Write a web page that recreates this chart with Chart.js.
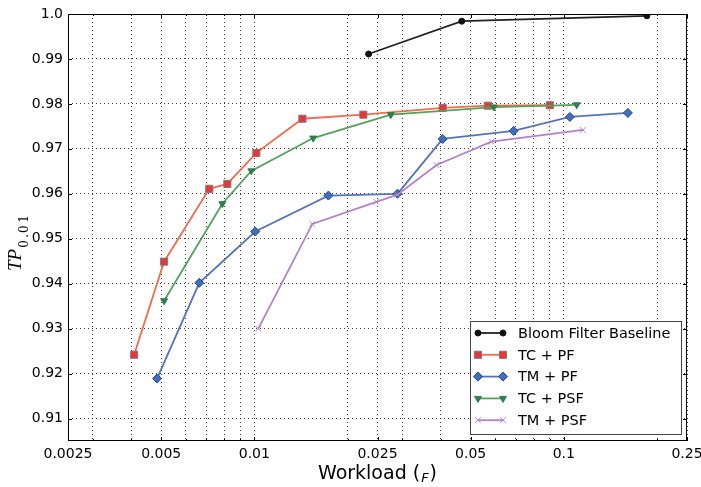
<!DOCTYPE html>
<html>
<head>
<meta charset="utf-8">
<script src="https://cdn.jsdelivr.net/npm/chart.js@4.4.1/dist/chart.umd.min.js"></script>
<style>
  html, body { margin: 0; padding: 0; background: #fff; }
  #wrap { width: 701px; height: 487px; }
</style>
</head>
<body>
<div id="wrap"><canvas id="chart" width="701" height="487"></canvas></div>
<script>
// values
const seriesLabels = ['Bloom Filter Baseline', 'TC + PF', 'TM + PF', 'TC + PSF', 'TM + PSF'];

const bloomX = [0.0234, 0.0468, 0.1855];
const bloomY = [0.9911, 0.9984, 0.9996];

const tcPfX = [0.00409, 0.00511, 0.00715, 0.00818, 0.01015, 0.0143, 0.0225, 0.0406, 0.0568, 0.0901];
const tcPfY = [0.9242, 0.9449, 0.9611, 0.9622, 0.9691, 0.9767, 0.9776, 0.9791, 0.9796, 0.9797];

const tmPfX = [0.00485, 0.00664, 0.01007, 0.01735, 0.0290, 0.0406, 0.0688, 0.1046, 0.161];
const tmPfY = [0.9189, 0.9402, 0.9516, 0.9596, 0.9600, 0.9722, 0.9740, 0.9771, 0.9780];

const tcPsfX = [0.00511, 0.00788, 0.00978, 0.0155, 0.0276, 0.0594, 0.1101];
const tcPsfY = [0.9362, 0.9578, 0.9651, 0.9724, 0.9776, 0.9793, 0.9798];

const tmPsfX = [0.0103, 0.0154, 0.0248, 0.0290, 0.0388, 0.0584, 0.1152];
const tmPsfY = [0.9300, 0.9533, 0.9582, 0.9598, 0.9664, 0.9716, 0.9742];

const xTickLabels = [0.0025, 0.005, 0.01, 0.025, 0.05, 0.1, 0.25];
const yTickValues = [0.91, 0.92, 0.93, 0.94, 0.95, 0.96, 0.97, 0.98, 0.99, 1.0];

// log grid: 2..9 in each decade plus the labelled ticks
function buildXGrid() {
    const out = xTickLabels.slice();
    [0.001, 0.01, 0.1].forEach(dec => {
        for (let m = 1; m <= 9; m++) {
            const v = +(dec * m).toPrecision(6);
            if (v > 0.0025 && v < 0.25 && !out.some(t => Math.abs(t - v) < 1e-9)) out.push(v);
        }
    });
    return out.sort((a, b) => a - b);
}
const xGrid = buildXGrid();

function zip(xs, ys) {
    return xs.map((x, i) => ({ x: x, y: ys[i] }));
}

const styles = [
    { line: '#222222', fill: '#111111', edge: '#111111', pointStyle: 'circle', radius: 3, rotation: 0 },
    { line: '#F26B50', fill: '#E8363A', edge: '#7a7a7a', pointStyle: 'rect', radius: 5, rotation: 0 },
    { line: '#5673B9', fill: '#3D6FC2', edge: '#26457c', pointStyle: 'rectRot', radius: 4.5, rotation: 0 },
    { line: '#55A05A', fill: '#2F7E4E', edge: '#2F7E4E', pointStyle: 'triangle', radius: 4, rotation: 180 },
    { line: '#B680C8', fill: '#B680C8', edge: '#B680C8', pointStyle: 'crossRot', radius: 4, rotation: 0 }
];

const seriesData = [zip(bloomX, bloomY), zip(tcPfX, tcPfY), zip(tmPfX, tmPfY), zip(tcPsfX, tcPsfY), zip(tmPsfX, tmPsfY)];

const datasets = seriesData.map((d, i) => ({
    label: seriesLabels[i],
    data: d,
    borderColor: styles[i].line,
    borderWidth: 1.8,
    pointStyle: styles[i].pointStyle,
    pointRadius: styles[i].radius,
    pointRotation: styles[i].rotation,
    pointBackgroundColor: styles[i].fill,
    pointBorderColor: styles[i].edge,
    pointBorderWidth: 1,
    tension: 0,
    fill: false,
    order: 4 - i
}));

const decorPlugin = {
    id: 'decor',
    afterDraw(chart) {
        const ctx = chart.ctx;
        const a = chart.chartArea;
        const xs = chart.scales.x, ys = chart.scales.y;
        ctx.save();

        // frame
        ctx.strokeStyle = '#000';
        ctx.lineWidth = 1;
        ctx.strokeRect(a.left + 0.5, a.top + 0.5, a.right - a.left - 1, a.bottom - a.top - 1);

        // inward tick marks
        ctx.beginPath();
        xGrid.forEach(v => {
            const px = Math.round(xs.getPixelForValue(v)) + 0.5;
            const len = xTickLabels.some(t => Math.abs(t - v) < 1e-9) ? 4 : 2;
            ctx.moveTo(px, a.bottom); ctx.lineTo(px, a.bottom - len);
            ctx.moveTo(px, a.top); ctx.lineTo(px, a.top + len);
        });
        yTickValues.forEach(v => {
            const py = Math.round(ys.getPixelForValue(v)) + 0.5;
            ctx.moveTo(a.left, py); ctx.lineTo(a.left + 4, py);
            ctx.moveTo(a.right, py); ctx.lineTo(a.right - 4, py);
        });
        ctx.stroke();

        // legend
        const bw = 211, bh = 113;
        const bx = a.right - 6 - bw, by = a.bottom - 7 - bh;
        ctx.fillStyle = '#fff';
        ctx.fillRect(bx, by, bw, bh);
        ctx.strokeStyle = '#444';
        ctx.strokeRect(bx + 0.5, by + 0.5, bw, bh);
        const drawPoint = (Chart.helpers && Chart.helpers.drawPoint) ? Chart.helpers.drawPoint : null;
        seriesLabels.forEach((label, i) => {
            const st = styles[i];
            const cy = by + 12 + i * 21.8;
            const x1 = bx + 8, x2 = bx + 33;
            ctx.strokeStyle = st.line;
            ctx.lineWidth = 1.8;
            ctx.beginPath();
            ctx.moveTo(x1, cy); ctx.lineTo(x2, cy);
            ctx.stroke();
            if (drawPoint) {
                ctx.fillStyle = st.fill;
                ctx.strokeStyle = st.edge;
                ctx.lineWidth = 1;
                [x1, x2].forEach(px => drawPoint(ctx, { pointStyle: st.pointStyle, radius: st.radius, rotation: st.rotation, borderWidth: 1 }, px, cy));
            }
            ctx.fillStyle = '#000';
            ctx.font = '14.5px "DejaVu Sans"';
            ctx.textAlign = 'left';
            ctx.textBaseline = 'middle';
            ctx.fillText(label, bx + 48, cy + 1);
        });

        // x axis title
        const cx = (a.left + a.right) / 2;
        ctx.fillStyle = '#000';
        ctx.textBaseline = 'alphabetic';
        ctx.textAlign = 'left';
        const big = '19px "DejaVu Sans"', small = 'italic 13px "DejaVu Sans"';
        ctx.font = big;
        const w1 = ctx.measureText('Workload (').width;
        const w3 = ctx.measureText(')').width;
        ctx.font = small;
        const w2 = ctx.measureText('F').width + 2;
        let tx = cx - (w1 + w2 + w3) / 2;
        const base = 479;
        ctx.font = big;
        ctx.fillText('Workload (', tx, base);
        ctx.font = small;
        ctx.fillText('F', tx + w1 + 1, base + 3);
        ctx.font = big;
        ctx.fillText(')', tx + w1 + w2, base);

        // y axis title, rotated
        ctx.save();
        ctx.translate(21, 271);
        ctx.rotate(-Math.PI / 2);
        ctx.font = 'italic 19px "Liberation Serif"';
        ctx.fillText('TP', 0, 0);
        const wtp = ctx.measureText('TP').width;
        ctx.font = '12px "DejaVu Serif"';
        const sub = ['0', '.', '0', '1'];
        let sx = wtp + 1;
        sub.forEach(ch => {
            ctx.fillText(ch, sx, 7);
            sx += ctx.measureText(ch).width + (ch === '.' ? 1 : 2.5);
        });
        ctx.restore();

        ctx.restore();
    }
};

new Chart(document.getElementById('chart'), {
    type: 'line',
    data: { datasets: datasets },
    plugins: [decorPlugin],
    options: {
        responsive: false,
        animation: false,
        devicePixelRatio: 1,
        layout: { padding: { top: 14, right: 0, left: 0, bottom: 0 } },
        plugins: {
            legend: { display: false },
            tooltip: { enabled: false }
        },
        scales: {
            x: {
                type: 'logarithmic',
                min: 0.0025,
                max: 0.25,
                afterBuildTicks: function(scale) {
                    scale.ticks = xGrid.map(v => ({ value: v }));
                },
                afterFit: function(scale) {
                    scale.height = 46;
                    scale.paddingLeft = 0;
                    scale.paddingRight = 14;
                },
                ticks: {
                    autoSkip: false,
                    maxRotation: 0,
                    minRotation: 0,
                    padding: 5,
                    color: '#000',
                    font: { family: 'DejaVu Sans', size: 14 },
                    callback: function(value) {
                        const hit = xTickLabels.find(t => Math.abs(t - value) < 1e-9);
                        return hit !== undefined ? String(hit) : '';
                    }
                },
                grid: { color: 'rgba(0,0,0,0.75)', lineWidth: 1, drawTicks: false },
                border: { display: false, dash: [1, 3] }
            },
            y: {
                type: 'linear',
                min: 0.905,
                max: 1.0,
                afterBuildTicks: function(scale) {
                    scale.ticks = yTickValues.map(v => ({ value: v }));
                },
                afterFit: function(scale) {
                    scale.width = 68;
                    scale.paddingTop = 0;
                    scale.paddingBottom = 0;
                },
                ticks: {
                    padding: 5,
                    color: '#000',
                    font: { family: 'DejaVu Sans', size: 14 },
                    callback: function(value) {
                        return Math.abs(value - 1) < 1e-9 ? '1.0' : value.toFixed(2);
                    }
                },
                grid: { color: 'rgba(0,0,0,0.75)', lineWidth: 1, drawTicks: false },
                border: { display: false, dash: [1, 3] }
            }
        }
    }
});
</script>
</body>
</html>
